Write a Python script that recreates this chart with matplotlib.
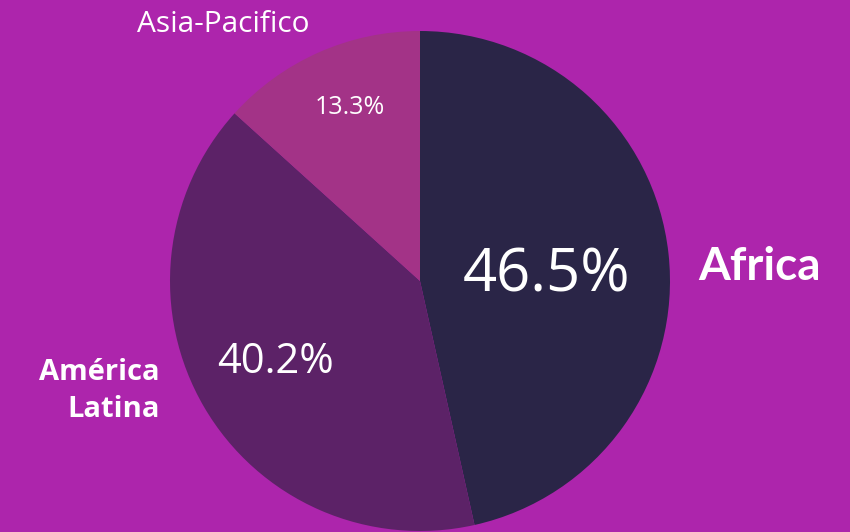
import matplotlib.pyplot as plt

# Data
regions = ["Africa", "América Latina", "Asia-Pacifico"]
shares = [46.5, 40.2, 13.3]
pct_labels = ["46.5%", "40.2%", "13.3%"]

# Colours
BG = "#AD25AC"
slice_colors = ["#2A2547", "#5C2267", "#A33387"]

W, H = 850, 532

fig = plt.figure(figsize=(W / 100, H / 100), dpi=100, facecolor=BG)
ax = fig.add_axes([0, 0, 1, 1])
ax.set_facecolor(BG)

# pie in pixel coordinates (y measured from bottom)
cx, cy, r = 420, H - 281, 250
ax.pie(
    shares,
    colors=slice_colors,
    startangle=90,
    counterclock=False,
    center=(cx, cy),
    radius=r,
    wedgeprops=dict(linewidth=0),
)
ax.set_xlim(0, W)
ax.set_ylim(0, H)
ax.set_aspect("auto")
ax.axis("off")

FONT = "Open Sans"


def px(x, y):
    return x, H - y


# percentage labels inside slices
ax.text(*px(547, 276), pct_labels[0], color="white", fontsize=43, family=FONT,
        ha="center", va="center")
ax.text(*px(276, 362), pct_labels[1], color="white", fontsize=30, family=FONT,
        ha="center", va="center")
ax.text(*px(350, 108), pct_labels[2], color="white", fontsize=18, family=FONT,
        ha="center", va="center")

# region names
ax.text(*px(760, 267), regions[0], color="white", fontsize=33, family="Lato",
        weight="bold", ha="center", va="center")
ax.text(*px(160, 391), "América\nLatina", color="white", fontsize=21, family=FONT,
        weight="bold", ha="right", va="center", linespacing=1.35)
ax.text(*px(223, 24), regions[2], color="white", fontsize=21.5, family=FONT,
        ha="center", va="center")

fig.savefig("out.png", dpi=100, facecolor=BG)
